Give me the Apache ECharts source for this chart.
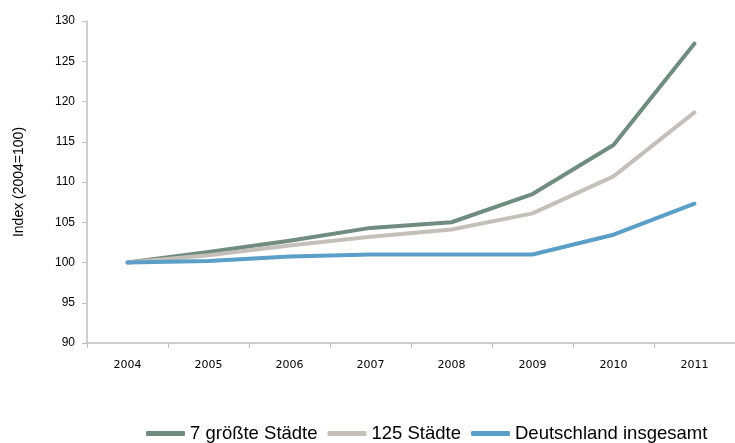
<!DOCTYPE html>
<html><head><meta charset="utf-8">
<script src="https://cdn.jsdelivr.net/npm/echarts@6/dist/echarts.min.js"></script>
<style>html,body{margin:0;padding:0;background:#fff}#c{width:735px;height:443px}</style>
</head><body><div id="c"></div>
<script>
const years = ['2004','2005','2006','2007','2008','2009','2010','2011'];
const groessteStaedte = [100, 101.3, 102.7, 104.3, 105.0, 108.5, 114.6, 127.2];
const staedte125 = [100, 100.9, 102.1, 103.2, 104.1, 106.1, 110.7, 118.65];
const deutschland = [100, 100.2, 100.75, 101.0, 101.0, 101.0, 103.45, 107.3];
const seriesNames = ['7 größte Städte', '125 Städte', 'Deutschland insgesamt'];
const colors = ['#6F8C7E', '#C5BFBA', '#5B9EC7'];
const axisFont = '"Liberation Sans", Arial, sans-serif';
const xFont = '"DejaVu Sans", sans-serif';
const legendFont = '"Liberation Sans", Arial, sans-serif';
const chart = echarts.init(document.getElementById('c'));
const mk = (name, data, color) => ({
  name, type: 'line', data, symbol: 'none', smooth: false,
  lineStyle: { width: 4, color, cap: 'round', join: 'round' },
  itemStyle: { color }
});
chart.setOption({
  animation: false,
  grid: { left: 87, right: -6, top: 21, bottom: 100, containLabel: false },
  legend: {
    left: 146, top: 424, padding: 0, itemWidth: 39, itemHeight: 5, itemGap: 10,
    icon: 'roundRect',
    textStyle: { fontFamily: legendFont, fontSize: 18.5, color: '#000' },
    data: seriesNames
  },
  xAxis: {
    type: 'category', data: years, boundaryGap: true,
    axisLine: { lineStyle: { color: '#BFBFBF', width: 1.5 } },
    axisTick: { show: true, length: 5, interval: 0, lineStyle: { color: '#BFBFBF' } },
    axisLabel: { fontFamily: xFont, fontSize: 11, color: '#000', margin: 17 }
  },
  yAxis: {
    type: 'value', min: 90, max: 130, interval: 5,
    name: 'Index (2004=100)', nameLocation: 'middle', nameGap: 61, nameRotate: 90,
    nameTextStyle: { fontFamily: axisFont, fontSize: 14, color: '#000' },
    splitLine: { show: false },
    axisLine: { show: true, lineStyle: { color: '#BFBFBF', width: 1.5 } },
    axisTick: { show: true, length: 5, lineStyle: { color: '#BFBFBF' } },
    axisLabel: { fontFamily: axisFont, fontSize: 12, color: '#000', margin: 12 }
  },
  series: [
    mk(seriesNames[0], groessteStaedte, colors[0]),
    mk(seriesNames[1], staedte125, colors[1]),
    mk(seriesNames[2], deutschland, colors[2])
  ]
});
</script></body></html>
